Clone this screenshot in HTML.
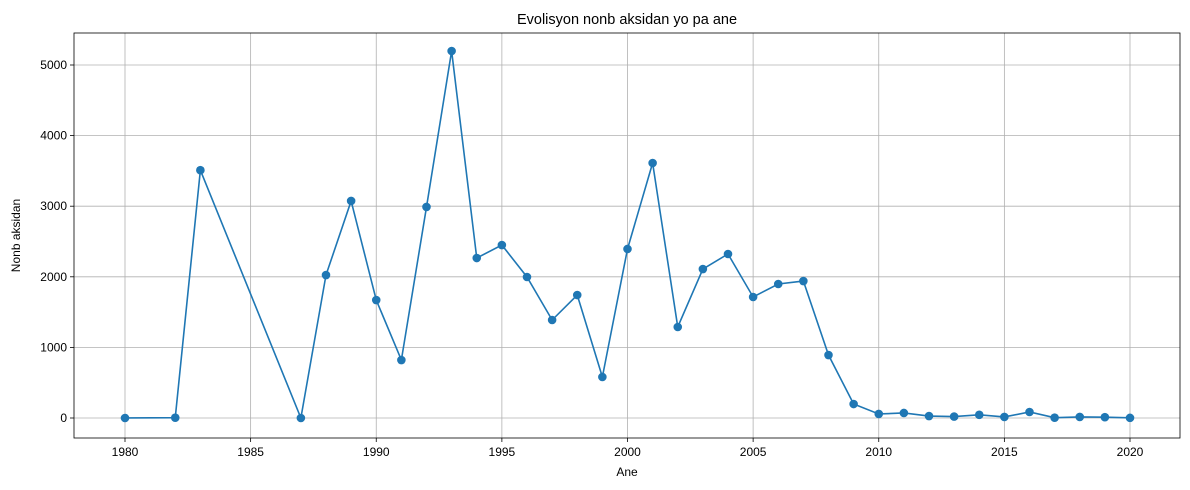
<!DOCTYPE html>
<html><head><meta charset="utf-8"><style>
html,body{margin:0;padding:0;background:#fff;}
svg{display:block;font-family:"Liberation Sans","DejaVu Sans",sans-serif;}
</style></head><body>
<svg id="chart" width="1190" height="490" xmlns="http://www.w3.org/2000/svg"></svg>
<script>
const years = [1980,1982,1983,1987,1988,1989,1990,1991,1992,1993,1994,1995,1996,1997,1998,1999,2000,2001,2002,2003,2004,2005,2006,2007,2008,2009,2010,2011,2012,2013,2014,2015,2016,2017,2018,2019,2020];
const values = [0,5,3510,0,2025,3074,1671,821,2989,5198,2266,2450,1997,1388,1742,581,2394,3612,1289,2110,2323,1714,1898,1940,892,198,57,71,28,20,45,15,85,5,15,12,2];
const xTicks = [1980,1985,1990,1995,2000,2005,2010,2015,2020];
const yTicks = [0,1000,2000,3000,4000,5000];

const NS="http://www.w3.org/2000/svg";
const svg=document.getElementById('chart');
const L=74,R=1180,T=33,B=438;
const x=v=>125+(v-1980)*(1130-125)/40;
const y=v=>418-v*(418-65)/5000;
function mk(tag,attrs,parent){const e=document.createElementNS(NS,tag);for(const k in attrs)e.setAttribute(k,attrs[k]);(parent||svg).appendChild(e);return e;}

const grid=mk('g',{});


xTicks.forEach(t=>{mk('line',{x1:x(t),x2:x(t),y1:T,y2:B,stroke:'#b0b0b0','stroke-width':0.8},grid);});
yTicks.forEach(t=>{mk('line',{x1:L,x2:R,y1:y(t),y2:y(t),stroke:'#b0b0b0','stroke-width':0.8},grid);});

const frame=mk('rect',{x:L,y:T,width:R-L,height:B-T,fill:'none',stroke:'#000','stroke-width':0.8});



const xa=mk('g',{});


xTicks.forEach(t=>{
  mk('line',{x1:x(t),x2:x(t),y1:B,y2:B+4,stroke:'#000','stroke-width':0.8},xa);
  const tx=mk('text',{x:x(t),y:B+18,'font-size':12,'text-anchor':'middle',fill:'#000'},xa);tx.textContent=t;
  
  
});
const ya=mk('g',{});


yTicks.forEach(t=>{
  mk('line',{x1:L-4,x2:L,y1:y(t),y2:y(t),stroke:'#000','stroke-width':0.8},ya);
  const tx=mk('text',{x:L-7,y:y(t)+4,'font-size':12,'text-anchor':'end',fill:'#000'},ya);tx.textContent=t;
  
  
});

const pts=years.map((yr,i)=>x(yr)+','+y(values[i])).join(' ');
const line=mk('polyline',{points:pts,fill:'none',stroke:'#1f77b4','stroke-width':1.6});


years.forEach((yr,i)=>{
  const c=mk('circle',{cx:x(yr),cy:y(values[i]),r:4.3,fill:'#1f77b4'});
  
  
});

const title=mk('text',{x:(L+R)/2,y:24,'font-size':14.5,'text-anchor':'middle',fill:'#000'});
title.textContent='Evolisyon nonb aksidan yo pa ane';


const xt=mk('text',{x:(L+R)/2,y:476,'font-size':12,'text-anchor':'middle',fill:'#000'});
xt.textContent='Ane';


const yt=mk('text',{x:20,y:(T+B)/2,'font-size':12,'text-anchor':'middle',fill:'#000',transform:'rotate(-90 20 '+((T+B)/2)+')'});
yt.textContent='Nonb aksidan';


</script>
</body></html>
